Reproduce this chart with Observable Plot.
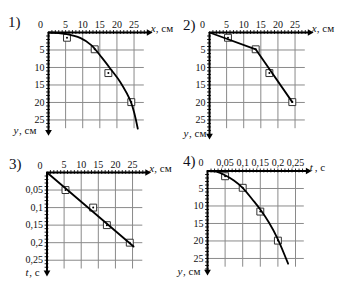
<!DOCTYPE html>
<html><head><meta charset="utf-8">
<script src="https://cdn.jsdelivr.net/npm/d3@7"></script>
<script src="https://cdn.jsdelivr.net/npm/@observablehq/plot@0.6"></script>
<style>
body{margin:0;background:#fff;}
#wrap{position:relative;width:342px;height:285px;overflow:hidden;}
#wrap svg, #wrap svg text{font-family:"Liberation Serif","Times New Roman",serif !important;}
.pn{position:absolute;font-family:"Liberation Serif",serif;font-size:15px;color:#101020;line-height:1;}
.pp{position:absolute;}
</style></head><body>
<div id="wrap"></div>
<script>
// tick labels
const cmTicks = [5, 10, 15, 20, 25];
const tTicks = [0.05, 0.1, 0.15, 0.2, 0.25];
// measured points
const xs = [5.4, 13.5, 17.5, 24.2];   // x, см
const ys = [1.5, 4.8, 11.6, 19.9];    // y, см
const ts = [0.05, 0.1, 0.15, 0.2];    // t, с
// panel 1: smooth curve y(x)
const curve1X = [0, 5, 9.4, 12.5, 15.6, 18.2, 21, 24.1, 26.1];
const curve1Y = [0, 0.4, 1.6, 3.6, 7.2, 10.5, 14.2, 19.9, 27.5];
// panel 2: broken line y(x)
const poly2X = [0, 13.5, 24.2];
const poly2Y = [0, 4.8, 19.9];
// panel 3: straight line t(x)
const line3X = [0, 25.3];
const line3T = [0, 0.211];
// panel 4: curve y(t)
const curve4T = [0, 0.025, 0.05, 0.075, 0.1, 0.132, 0.15, 0.175, 0.199, 0.229];
const curve4Y = [0, 0.2, 1.2, 2.7, 4.8, 8.7, 11, 14.8, 19.3, 26.5];

const comma = d => String(d).replace(".", ",");
const pts = (a, b) => a.map((v, i) => ({h: v, v: b[i]}));

function panel(cfg) {
  const {left, top, w, h, ml, mt, xDom, yDom, xTicks, yTicks, xFmt, yFmt,
         xStep, yStep, xArrow, yArrow, xName, yName, unitX, unitY, points, line, curve} = cfg;
  const mr = w - ml - cfg.xRange, mb = h - mt - cfg.yRange;
  const xTick = (xDom[1]) * 0.02, yTick = (yDom[1]) * 0.02;
  const minorX = d3.range(xStep, xArrow - xStep * 0.5, xStep);
  const minorY = d3.range(yStep, yArrow - yStep * 0.5, yStep);
  const p = Plot.plot({
    width: w, height: h, marginLeft: ml, marginTop: mt, marginRight: mr, marginBottom: mb,
    x: {domain: xDom}, y: {domain: yDom, reverse: true},
    style: {fontFamily: "Liberation Serif", fontSize: "10px", color: "#111", background: "transparent", overflow: "visible"},
    marks: [
      Plot.ruleX(xTicks, {x: d => d, y1: 0, y2: yDom[1], stroke: "#8a8a8a", strokeWidth: 1}),
      Plot.ruleY(yTicks, {y: d => d, x1: 0, x2: xDom[1], stroke: "#8a8a8a", strokeWidth: 1}),
      Plot.ruleX(minorX, {x: d => d, y1: -yTick, y2: yTick, stroke: "#222", strokeWidth: 1}),
      Plot.ruleY(minorY, {y: d => d, x1: -xTick, x2: xTick, stroke: "#222", strokeWidth: 1}),
      Plot.ruleY([0], {x1: 0, x2: xArrow, stroke: "#000", strokeWidth: 2}),
      Plot.ruleX([0], {y1: 0, y2: yArrow, stroke: "#000", strokeWidth: 2}),
      Plot.dot([0], {x: xArrow, y: 0, symbol: "triangle2", r: 3.2, fill: "#000", rotate: 90}),
      Plot.dot([0], {x: 0, y: yArrow, symbol: "triangle2", r: 3.2, fill: "#000", rotate: 180}),
      Plot.axisX({anchor: "top", ticks: xTicks, tickSize: 0, tickPadding: 5, label: null, tickFormat: xFmt}),
      Plot.axisY({anchor: "left", ticks: yTicks, tickSize: 0, tickPadding: 4, label: null, tickFormat: yFmt}),
      Plot.text(["0"], {x: 0, y: 0, text: d => d, dx: cfg.zdx, dy: cfg.zdy}),
      Plot.dot(points, {x: "h", y: "v", symbol: "square", r: 3.9, stroke: "#333", strokeWidth: 1, fill: "#fff"}),
      Plot.line(line, {x: "h", y: "v", stroke: "#000", strokeWidth: 1.8, curve: curve}),
      Plot.dot(points, {x: "h", y: "v", r: 1, fill: "#000"}),
      Plot.text([xName], {x: xArrow, y: 0, text: d => d, textAnchor: "start", dx: 2, dy: -4, fontStyle: "italic", fontSize: 11}),
      Plot.text([unitX], {x: xArrow, y: 0, text: d => d, textAnchor: "start", dx: 7, dy: -4, fontSize: 11}),
      Plot.text([yName], {x: 0, y: yArrow, text: d => d, textAnchor: "start", dx: cfg.ydx, dy: cfg.ydy, fontStyle: "italic", fontSize: 11}),
      Plot.text([unitY], {x: 0, y: yArrow, text: d => d, textAnchor: "start", dx: cfg.ydx + cfg.nameW, dy: cfg.ydy, fontSize: 11})
    ]
  });
  p.classList.add("pp");
  p.style.left = left + "px"; p.style.top = top + "px";
  document.getElementById("wrap").appendChild(p);
  const n = document.createElement("div");
  n.className = "pn"; n.textContent = cfg.num;
  n.style.left = (left + cfg.numX) + "px"; n.style.top = (top + cfg.numY) + "px";
  document.getElementById("wrap").appendChild(n);
}

panel({left: 0, top: 0, w: 171, h: 142, ml: 48, mt: 32, xRange: 95.8, yRange: 96.2,
  xDom: [0, 28], yDom: [0, 27.5], xTicks: cmTicks, yTicks: cmTicks, xFmt: d => d, yFmt: d => d,
  xStep: 1, yStep: 1, xArrow: 29.3, yArrow: 28.4, xName: "x", unitX: ", см", yName: "y", unitY: ", см",
  ydx: -35, ydy: -1, nameW: 5.5, zdx: -8, zdy: -8,
  points: pts(xs, ys), line: pts(curve1X, curve1Y), curve: "catmull-rom", num: "1)", numX: 8, numY: 15});

panel({left: 171, top: 0, w: 171, h: 142, ml: 38, mt: 32, xRange: 95.8, yRange: 96.2,
  xDom: [0, 28], yDom: [0, 27.5], xTicks: cmTicks, yTicks: cmTicks, xFmt: d => d, yFmt: d => d,
  xStep: 1, yStep: 1, xArrow: 29.3, yArrow: 29.5, xName: "x", unitX: ", см", yName: "y", unitY: ", см",
  ydx: -26, ydy: -2, nameW: 5.5, zdx: -7, zdy: -7.5,
  points: pts(xs, ys), line: pts(poly2X, poly2Y), curve: "linear", num: "2)", numX: 12, numY: 18});

panel({left: 0, top: 142, w: 171, h: 143, ml: 46.5, mt: 30, xRange: 95.8, yRange: 96.5,
  xDom: [0, 28], yDom: [0, 0.275], xTicks: cmTicks, yTicks: tTicks, xFmt: d => d, yFmt: comma,
  xStep: 1, yStep: 0.01, xArrow: 29.3, yArrow: 0.285, xName: "x", unitX: ", см", yName: "t", unitY: ", с",
  ydx: -21.5, ydy: -0.5, nameW: 3.8, zdx: -7, zdy: -7,
  points: pts(xs, ts), line: pts(line3X, line3T), curve: "linear", num: "3)", numX: 9, numY: 15});

panel({left: 171, top: 142, w: 171, h: 143, ml: 36, mt: 28.5, xRange: 96.8, yRange: 96.2,
  xDom: [0, 0.275], yDom: [0, 27.5], xTicks: tTicks, yTicks: cmTicks, xFmt: comma, yFmt: d => d,
  xStep: 0.01, yStep: 1, xArrow: 0.285, yArrow: 28.8, xName: "t", unitX: ", с", yName: "y", unitY: ", см",
  ydx: -30, ydy: 0, nameW: 5.5, zdx: -6.5, zdy: -8.5,
  points: pts(ts, ys), line: pts(curve4T, curve4Y), curve: "catmull-rom", num: "4)", numX: 12, numY: 12});
</script>
</body></html>
